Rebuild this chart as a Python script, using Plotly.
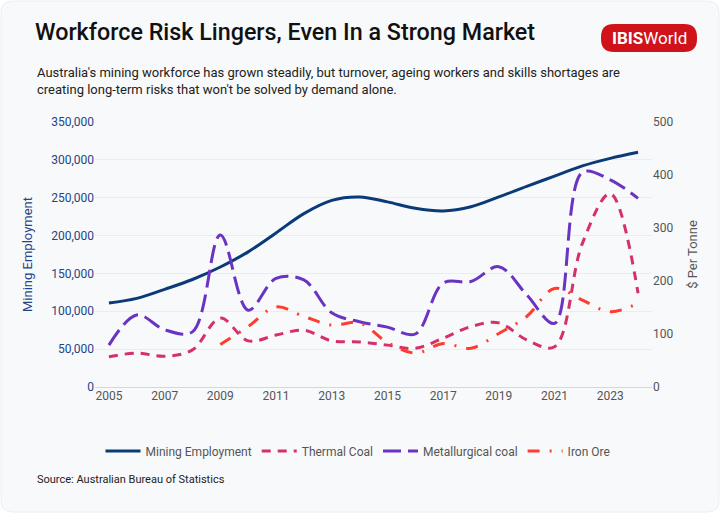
import plotly.graph_objects as go

years = list(range(2005, 2025))
mining_employment = [111000, 117000, 129000, 142000, 158500, 178500, 203500, 229000, 246500, 251000,
                     244500, 236000, 232500, 238000, 251000, 265000, 278500, 292000, 302000, 310000]
thermal_coal = [57, 64, 58, 70, 130, 87, 98, 107, 87, 85, 79, 73, 92, 114, 121, 89, 76, 271, 365, 177]
met_coal = [79, 136, 108, 104, 287, 145, 205, 202, 140, 123, 113, 100, 196, 199, 227, 174, 120, 405, 391, 356]
iron_ore = [None, None, None, None, 80, 114, 151, 133, 117, 121, 84, 64, 82, 73, 101, 133, 186, 164, 142, 158]

title = "Workforce Risk Lingers, Even In a Strong Market"
subtitle = ("Australia's mining workforce has grown steadily, but turnover, ageing workers and skills shortages are<br>"
            "creating long-term risks that won't be solved by demand alone.")
source = "Source: Australian Bureau of Statistics"

C_EMP = "#0b3a78"
C_TH = "#d6306a"
C_MET = "#6a33c2"
C_IRON = "#ff3d2e"
FONT = "Roboto"

W, H = 720, 513
L, R, T, B = 95, 652, 122, 387  # plot area in pixels

def px(x): return (x - L) / (R - L)
def py(y): return (B - y) / (B - T)

fig = go.Figure()
fig.add_trace(go.Scatter(x=years, y=mining_employment, name="Mining Employment", mode="lines",
                         line=dict(color=C_EMP, width=3, shape="spline", smoothing=1.0), yaxis="y"))
fig.add_trace(go.Scatter(x=years, y=thermal_coal, name="Thermal Coal", mode="lines",
                         line=dict(color=C_TH, width=3, shape="spline", smoothing=1.0, dash="9px,7px"), yaxis="y2"))
fig.add_trace(go.Scatter(x=years, y=met_coal, name="Metallurgical coal", mode="lines",
                         line=dict(color=C_MET, width=3, shape="spline", smoothing=1.0, dash="18px,7px"), yaxis="y2"))
fig.add_trace(go.Scatter(x=years, y=iron_ore, name="Iron Ore", mode="lines", connectgaps=False,
                         line=dict(color=C_IRON, width=3, shape="spline", smoothing=1.0, dash="12px,10px,2px,10px"), yaxis="y2"))

def rounded_rect(x0, y0, x1, y1, r):
    def P(x, y): return f"{px(x)},{py(y)}"
    return (f"M {P(x0+r,y0)} L {P(x1-r,y0)} Q {P(x1,y0)} {P(x1,y0+r)} L {P(x1,y1-r)} Q {P(x1,y1)} {P(x1-r,y1)} "
            f"L {P(x0+r,y1)} Q {P(x0,y1)} {P(x0,y1-r)} L {P(x0,y0+r)} Q {P(x0,y0)} {P(x0+r,y0)} Z")

shapes = [
    dict(type="path", xref="paper", yref="paper", layer="below",
         path=rounded_rect(1, 1, 719, 512, 12),
         fillcolor="#f8f9fa", line=dict(color="#eceef0", width=1)),
    dict(type="path", xref="paper", yref="paper", layer="above",
         path=rounded_rect(601, 24, 697, 52, 13),
         fillcolor="#d0121b", line=dict(width=0)),
]

annotations = [
    dict(text=title, x=px(33), y=py(32), xref="paper", yref="paper", xanchor="left", yanchor="middle",
         showarrow=False, font=dict(family=FONT, size=23.3, color="#111111", weight=500)),
    dict(text="<b>IBIS</b>World", x=px(649), y=py(38.5), xref="paper", yref="paper", xanchor="center",
         yanchor="middle", showarrow=False, font=dict(family=FONT, size=17, color="white")),
    dict(text=subtitle, x=px(35), y=py(81), xref="paper", yref="paper", xanchor="left", yanchor="middle",
         align="left", showarrow=False, font=dict(family=FONT, size=13, color="#222222")),
    dict(text=source, x=px(35), y=py(479), xref="paper", yref="paper", xanchor="left", yanchor="middle",
         showarrow=False, font=dict(family=FONT, size=11, color="#222222")),
]

fig.update_layout(
    width=W, height=H,
    paper_bgcolor="white", plot_bgcolor="rgba(0,0,0,0)",
    margin=dict(l=L, r=W - R, t=T, b=H - B, autoexpand=False),
    font=dict(family=FONT, size=12, color="#555555"),
    shapes=shapes, annotations=annotations,
    showlegend=True,
    legend=dict(orientation="h", x=px(358), xanchor="center", y=py(451), yanchor="middle",
                font=dict(family=FONT, size=12, color="#555555"), itemwidth=35, bgcolor="rgba(0,0,0,0)"),
    xaxis=dict(range=[2004.5, 2024.5], tickmode="linear", tick0=2005, dtick=2, showgrid=False,
               zeroline=False, showline=False, ticks="", tickfont=dict(family=FONT, size=12, color="#555555")),
    yaxis=dict(range=[0, 350000], dtick=50000, tickformat=",", showgrid=True, gridcolor="#ebecee",
               zeroline=True, zerolinecolor="#d5d7da", zerolinewidth=1,
               tickfont=dict(family=FONT, size=12, color="#1f4488"),
               title=dict(text="Mining Employment", font=dict(family=FONT, size=13, color="#1f4488"), standoff=15)),
    yaxis2=dict(range=[0, 500], dtick=100, overlaying="y", side="right", showgrid=False, zeroline=False,
                tickfont=dict(family=FONT, size=12, color="#555555"),
                title=dict(text="$ Per Tonne", font=dict(family=FONT, size=13, color="#555555"), standoff=15)),
)

fig.write_html("out.html", config={"displayModeBar": False},
               post_script="document.body.style.margin='0';")
